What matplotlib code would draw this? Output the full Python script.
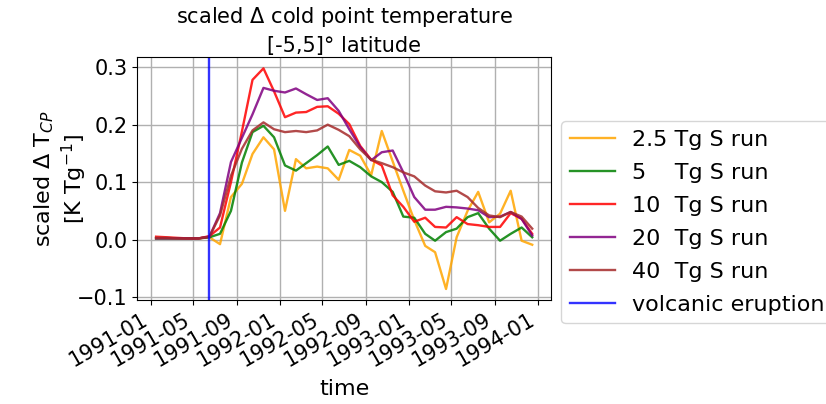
import numpy as np
import pandas as pd
import matplotlib
matplotlib.use('Agg')
import matplotlib.pyplot as plt
import matplotlib.dates as mdates

times = pd.date_range('1991-01-01', periods=36, freq='MS') + pd.Timedelta(days=15)
eruption = pd.Timestamp('1991-06-15')

run_2_5 = [0.002, 0.002, 0.002, 0.002, 0.002, 0.004, -0.008, 0.074, 0.097, 0.149, 0.178, 0.157,
           0.050, 0.140, 0.124, 0.127, 0.124, 0.104, 0.156, 0.146, 0.112, 0.189, 0.136, 0.085,
           0.034, -0.011, -0.022, -0.086, 0.004, 0.050, 0.083, 0.030, 0.045, 0.085, -0.002, -0.009]
run_5 = [0.002, 0.002, 0.002, 0.002, 0.002, 0.004, 0.010, 0.050, 0.134, 0.187, 0.198, 0.178,
         0.129, 0.120, 0.133, 0.147, 0.162, 0.130, 0.137, 0.126, 0.110, 0.100, 0.083, 0.040,
         0.038, 0.010, -0.002, 0.013, 0.019, 0.039, 0.046, 0.019, -0.002, 0.010, 0.021, 0.004]
run_10 = [0.005, 0.004, 0.003, 0.002, 0.002, 0.006, 0.021, 0.100, 0.188, 0.278, 0.298, 0.258,
          0.213, 0.221, 0.222, 0.231, 0.232, 0.219, 0.201, 0.163, 0.139, 0.129, 0.077, 0.057,
          0.031, 0.038, 0.022, 0.021, 0.039, 0.027, 0.025, 0.022, 0.022, 0.046, 0.036, 0.010]
run_20 = [0.002, 0.002, 0.002, 0.002, 0.002, 0.005, 0.046, 0.135, 0.177, 0.218, 0.264, 0.259,
          0.256, 0.263, 0.253, 0.243, 0.246, 0.224, 0.192, 0.161, 0.138, 0.152, 0.155, 0.117,
          0.074, 0.052, 0.052, 0.057, 0.056, 0.054, 0.051, 0.039, 0.040, 0.048, 0.036, 0.007]
run_40 = [0.003, 0.003, 0.002, 0.002, 0.002, 0.005, 0.042, 0.111, 0.158, 0.190, 0.204, 0.192,
          0.187, 0.189, 0.187, 0.190, 0.200, 0.191, 0.180, 0.157, 0.139, 0.133, 0.126, 0.117,
          0.110, 0.094, 0.084, 0.082, 0.085, 0.074, 0.055, 0.042, 0.039, 0.048, 0.040, 0.019]

labels = ['2.5 Tg S run', '5    Tg S run', '10  Tg S run', '20  Tg S run', '40  Tg S run']
colors = ['orange', 'green', 'red', 'purple', 'brown']
series = [run_2_5, run_5, run_10, run_20, run_40]

plt.rcParams['font.size'] = 15

fig = plt.figure(figsize=(8.26, 4.04), dpi=100)
ax = fig.add_axes([0.1662, 0.2574, 0.5009, 0.6007])

for vals, c, lab in zip(series, colors, labels):
    ax.plot(times, vals, color=c, label=lab, alpha=0.85, lw=1.7)
ax.axvline(eruption, color='blue', label='volcanic eruption', alpha=0.8, lw=1.7)

ax.xaxis.set_major_locator(mdates.MonthLocator(bymonth=[1, 5, 9]))
ax.xaxis.set_major_formatter(mdates.DateFormatter('%Y-%m'))
for lbl in ax.get_xticklabels():
    lbl.set_rotation(30)
    lbl.set_ha('right')
ax.set_yticks([-0.1, 0.0, 0.1, 0.2, 0.3])
ax.grid(True, lw=1)
ax.set_xlabel('time', fontsize=16, labelpad=6)
ax.set_ylabel('scaled $\\Delta$ T$_{CP}$\n[K Tg$^{-1}$]', fontsize=16, labelpad=-9)
ax.set_title('scaled $\\Delta$ cold point temperature\n[-5,5]° latitude', fontsize=15,
             linespacing=1.4, pad=4)
ax.legend(loc='center left', bbox_to_anchor=(0.998, 0.32), fontsize=16, labelspacing=0.58)

fig.savefig('out.png', dpi=100)
